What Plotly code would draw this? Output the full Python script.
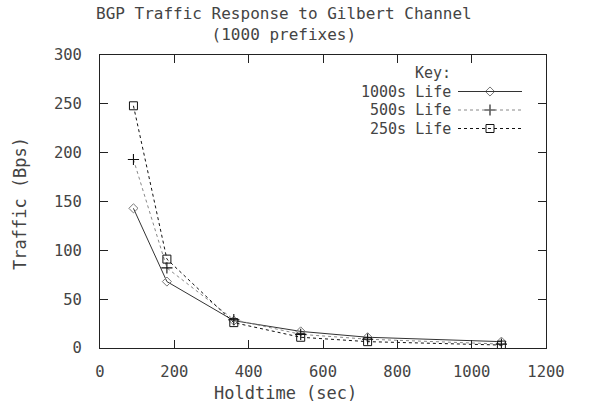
import plotly.graph_objects as go

holdtime = [90, 180, 360, 540, 720, 1080]
life_1000 = [143, 68, 28, 17, 11, 6.5]
life_500 = [193, 82, 29, 14, 9, 4]
life_250 = [248, 91, 26, 11, 6.5, 3]
series_names = ["1000s Life", "500s Life", "250s Life"]

FONT = "DejaVu Sans Mono"
TXT = "#444444"
TS = 17   # label text size
LS = 15   # key text size
KS = 15.5 # tick label size

styles = [
    dict(line=dict(color="#333333", width=1, dash="solid"),
         marker=dict(symbol="diamond-open", size=7, color="#777777", line=dict(width=1))),
    dict(line=dict(color="#888888", width=1, dash="dot"),
         marker=dict(symbol="cross-thin-open", size=8, color="#111111", line=dict(width=1.1))),
    dict(line=dict(color="#111111", width=1, dash="dot"),
         marker=dict(symbol="square-open", size=8, color="#111111", line=dict(width=1))),
]

fig = go.Figure()
for name, ys, st in zip(series_names, [life_1000, life_500, life_250], styles):
    fig.add_trace(go.Scatter(x=holdtime, y=ys, mode="lines+markers", name=name,
                             line=st["line"], marker=st["marker"], showlegend=False))

# Manual gnuplot-style key (text left, sample right)
L, R, T, B = 100, 44, 55, 63
W, H = 590, 411
pw, ph = W - L - R, H - T - B
def px(x): return (x - L) / pw
def py(y): return (H - B - y) / ph

fig.add_annotation(x=px(453), y=py(73), xref="paper", yref="paper", text="Key:",
                   showarrow=False, xanchor="right", yanchor="middle",
                   font=dict(family=FONT, size=LS, color=TXT))
key_y = [91.5, 110, 128.5]
for name, yy, st in zip(series_names, key_y, styles):
    fig.add_annotation(x=px(453), y=py(yy), xref="paper", yref="paper", text=name,
                       showarrow=False, xanchor="right", yanchor="middle",
                       font=dict(family=FONT, size=LS, color=TXT))
    fig.add_shape(type="line", xref="paper", yref="paper", x0=px(458), x1=px(522),
                  y0=py(yy), y1=py(yy), line=st["line"])
    fig.add_trace(go.Scatter(x=[px(490)], y=[py(yy)], xaxis="x2", yaxis="y2",
                             mode="markers", marker=st["marker"], showlegend=False,
                             hoverinfo="skip"))

# Title
fig.add_annotation(x=px(284), y=1.0, yshift=53, xref="paper", yref="paper",
                   text="BGP Traffic Response to Gilbert Channel<br>(1000 prefixes)",
                   showarrow=False, xanchor="center", yanchor="top",
                   font=dict(family=FONT, size=16, color=TXT))
# X axis title
fig.add_annotation(x=px(285), y=py(393), xref="paper", yref="paper",
                   text="Holdtime (sec)", showarrow=False, xanchor="center", yanchor="middle",
                   font=dict(family=FONT, size=TS, color=TXT))
# Y axis title
fig.add_annotation(x=px(20), y=py(204), xref="paper", yref="paper",
                   text="Traffic (Bps)", showarrow=False, textangle=-90,
                   xanchor="center", yanchor="middle",
                   font=dict(family=FONT, size=TS, color=TXT))

axis_common = dict(showline=True, linecolor="#222222", linewidth=1, mirror="ticks",
                   ticks="inside", ticklen=8, tickcolor="#222222", showgrid=False,
                   zeroline=False, tickfont=dict(family=FONT, size=KS, color=TXT))

fig.update_layout(
    width=W, height=H,
    margin=dict(l=L, r=R, t=T, b=B),
    paper_bgcolor="white", plot_bgcolor="white",
    xaxis=dict(range=[0, 1200], dtick=200, ticklabelstandoff=9, **axis_common),
    yaxis=dict(range=[0, 300], dtick=50, ticklabelstandoff=14, **axis_common),
    xaxis2=dict(overlaying="x", range=[0, 1], visible=False, fixedrange=True),
    yaxis2=dict(overlaying="y", range=[0, 1], visible=False, fixedrange=True),
)

fig.write_html("out.html")
